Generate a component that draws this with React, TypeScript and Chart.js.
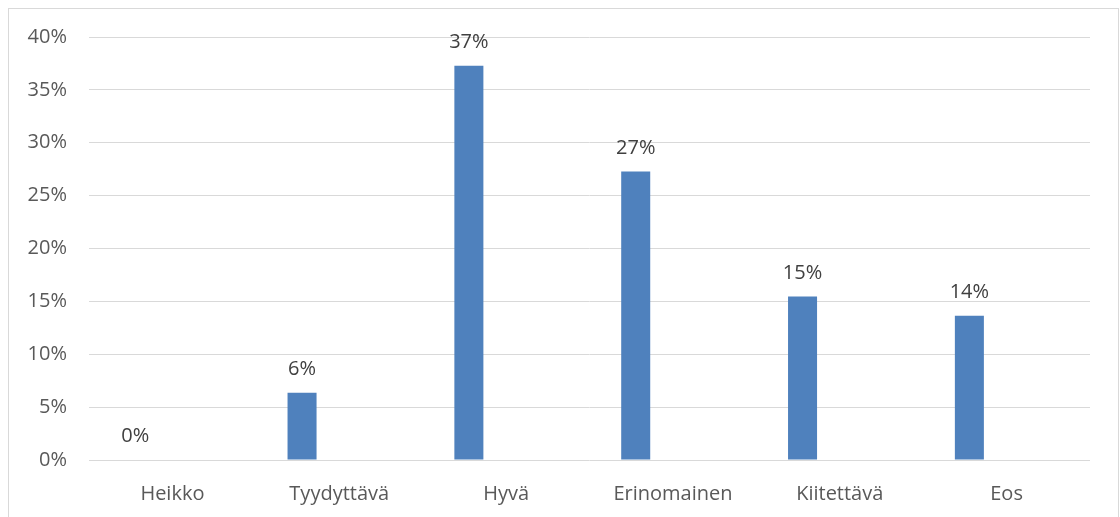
import React, { useEffect, useRef } from "react";
import { Chart, registerables } from "chart.js";

Chart.register(...registerables);

// Arvosanojen jakauma prosentteina
const categories = ["Heikko", "Tyydyttävä", "Hyvä", "Erinomainen", "Kiitettävä", "Eos"];
const shares = [0, 6.36, 37.27, 27.27, 15.45, 13.64];
const emptySeries = [null, null, null, null, null, null];
const yTicks = [0, 5, 10, 15, 20, 25, 30, 35, 40];

const TEXT = "#595959";
const LABEL = "#404040";
const GRID = "#D9D9D9";
const BAR = "#4F81BD";
const FONT = "'Open Sans', sans-serif";

const valueLabels = {
  id: "valueLabels",
  afterDatasetsDraw(chart: any) {
    const ctx = chart.ctx;
    const meta = chart.getDatasetMeta(0);
    ctx.save();
    ctx.fillStyle = LABEL;
    ctx.font = `20px ${FONT}`;
    ctx.textAlign = "center";
    ctx.textBaseline = "alphabetic";
    meta.data.forEach((bar: any, i: number) => {
      const v = shares[i];
      ctx.fillText(`${Math.round(v)}%`, bar.x, bar.y - 18);
    });
    ctx.restore();
  },
};

export default function App() {
  const canvasRef = useRef<HTMLCanvasElement | null>(null);

  useEffect(() => {
    if (!canvasRef.current) return;
    const chart = new Chart(canvasRef.current, {
      type: "bar",
      data: {
        labels: categories,
        datasets: [
          {
            data: shares,
            backgroundColor: BAR,
            borderWidth: 0,
            categoryPercentage: 0.892,
            barPercentage: 0.39,
          },
          {
            data: emptySeries as any,
            backgroundColor: "rgba(0,0,0,0)",
            categoryPercentage: 0.892,
            barPercentage: 0.39,
          },
        ],
      },
      options: {
        animation: false,
        responsive: false,
        maintainAspectRatio: false,
        layout: { padding: { top: 28, right: 28, left: 0, bottom: 0 } },
        plugins: {
          legend: { display: false },
          tooltip: { enabled: false },
        },
        scales: {
          x: {
            grid: { display: false, drawTicks: false },
            border: { display: false },
            ticks: {
              color: TEXT,
              font: { family: FONT, size: 20 },
              padding: 22,
              maxRotation: 0,
              autoSkip: false,
            },
            afterFit(scale: any) {
              scale.height = 67;
              scale.paddingLeft = 0;
              scale.paddingRight = 0;
            },
          },
          y: {
            min: 0,
            max: 40,
            afterBuildTicks(scale: any) {
              scale.ticks = yTicks.map((v) => ({ value: v }));
            },
            grid: { color: GRID, lineWidth: 1, drawTicks: false },
            border: { display: false },
            ticks: {
              color: TEXT,
              font: { family: FONT, size: 20 },
              padding: 22,
              callback: (v: any) => `${v}%`,
            },
            afterFit(scale: any) {
              scale.width = 80;
              scale.paddingTop = 0;
              scale.paddingBottom = 0;
            },
          },
        },
      },
      plugins: [valueLabels],
    });
    return () => chart.destroy();
  }, []);

  return (
    <div
      style={{
        position: "fixed",
        left: 8,
        top: 8,
        width: 1111,
        height: 520,
        boxSizing: "border-box",
        border: `1px solid ${GRID}`,
        background: "#fff",
      }}
    >
      <canvas ref={canvasRef} width={1109} height={518} style={{ display: "block" }} />
    </div>
  );
}
